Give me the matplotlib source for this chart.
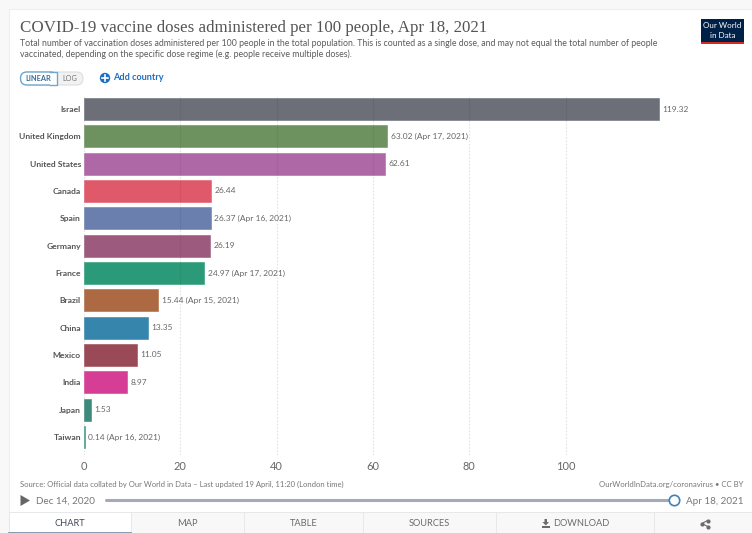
import matplotlib
matplotlib.use("Agg")
import matplotlib.pyplot as plt
from matplotlib.patches import FancyBboxPatch, Rectangle, Circle, Polygon

plt.rcParams['font.family'] = ['Lato', 'DejaVu Sans']

countries = ["Israel", "United Kingdom", "United States", "Canada", "Spain", "Germany", "France",
             "Brazil", "China", "Mexico", "India", "Japan", "Taiwan"]
doses = [119.32, 63.02, 62.61, 26.44, 26.37, 26.19, 24.97, 15.44, 13.35, 11.05, 8.97, 1.53, 0.14]
dates = ["", "Apr 17, 2021", "", "", "Apr 16, 2021", "", "Apr 17, 2021", "Apr 15, 2021", "", "", "", "",
         "Apr 16, 2021"]
colors = ["#6d6f78", "#6e9160", "#ae68a6", "#e0596b", "#6a7fae", "#9c5b7e", "#2b9a78",
          "#ad6a42", "#3585ac", "#9a4a56", "#d63e95", "#3e8a7c", "#3a9a80"]
x_ticks = [0, 20, 40, 60, 80, 100]
tabs = ["CHART", "MAP", "TABLE", "SOURCES", "DOWNLOAD"]
tab_edges = [9, 131, 244, 363, 496, 654, 752]

W, H = 752, 533
fig = plt.figure(figsize=(W / 100, H / 100), dpi=100, facecolor="#f8f8f8")

# Page furniture is laid out in pixel coordinates on a full-figure layer
page = fig.add_axes([0, 0, 1, 1], zorder=0)
page.set_xlim(0, W)
page.set_ylim(H, 0)
page.axis("off")
page.add_patch(Rectangle((9, 9), W - 9, H - 9, fc="white", ec="#eeeeee", lw=0.8))

GREY = "#5b5b5b"
page.text(20, 28, "COVID-19 vaccine doses administered per 100 people, Apr 18, 2021",
          family="Liberation Serif", fontsize=12.2, color="#555555", va="center", ha="left")
page.text(20, 43.5, "Total number of vaccination doses administered per 100 people in the total population. "
          "This is counted as a single dose, and may not equal the total number of people",
          fontsize=6.3, color=GREY, va="center")
page.text(20, 54.5, "vaccinated, depending on the specific dose regime (e.g. people receive multiple doses).",
          fontsize=6.3, color=GREY, va="center")

# Logo
page.add_patch(Rectangle((701, 19), 43, 25, fc="#002147", ec="none"))
page.add_patch(Rectangle((701, 41.5), 43, 2.5, fc="#d42b21", ec="none"))
page.text(722.5, 26, "Our World", color="white", fontsize=5.8, ha="center", va="center")
page.text(722.5, 35.5, "in Data", color="white", fontsize=5.8, ha="center", va="center")

# Scale toggle
page.add_patch(FancyBboxPatch((20.5, 72), 62.5, 13, boxstyle="round,pad=0,rounding_size=6.5",
                              fc="#f2f2f2", ec="#dddddd", lw=0.8))
page.add_patch(FancyBboxPatch((20.5, 72), 36.5, 13, boxstyle="round,pad=0,rounding_size=6.5",
                              fc="white", ec="#6fa8cf", lw=1.0))
page.add_patch(Rectangle((50, 72.5), 7, 12, fc="white", ec="none", zorder=2))
page.plot([50, 57, 57, 50], [72, 72, 85, 85], color="#6fa8cf", lw=1.0, zorder=3)
page.text(38.7, 78.7, "LINEAR", fontsize=5.3, color="#3b6f96", ha="center", va="center", weight="bold", zorder=4)
page.text(70, 78.7, "LOG", fontsize=5.2, color="#777777", ha="center", va="center")
page.add_patch(Circle((105, 78), 5.2, fc="#1d6fc4", ec="none"))
page.plot([102, 108], [78, 78], color="white", lw=1.2)
page.plot([105, 105], [75, 81], color="white", lw=1.2)
page.text(113.5, 77.8, "Add country", fontsize=6.6, color="#1d6fc4", va="center", weight="bold")

# Bar chart
left, right, top, bottom = 84.0, 700.0, 96.0, 455.0
ax = fig.add_axes([left / W, 1 - bottom / H, (right - left) / W, (bottom - top) / H], zorder=1)
ax.patch.set_alpha(0)
step = 27.33
ax.set_xlim(0, (right - left) / 4.815)
ax.set_ylim((bottom - 109) / step, (top - 109) / step)
ax.barh(range(len(countries)), doses, height=0.8, color=colors, edgecolor=colors, linewidth=0.4, zorder=2)
for t in x_ticks:
    ax.axvline(t, color="#e2e2e2", lw=0.8, ls=(0, (1.5, 1.5)), zorder=1)
    # Grid stays faintly visible through the bars it crosses
    for i, v in enumerate(doses):
        if v > t > 0:
            ax.vlines(t, i - 0.4, i + 0.4, color="black", alpha=0.05, lw=0.8, zorder=3)
for s in ax.spines.values():
    s.set_visible(False)
ax.set_xticks(x_ticks)
ax.set_xticklabels([str(t) for t in x_ticks], fontsize=7.9, color="#666666")
ax.tick_params(axis="x", length=0, pad=4.0)
ax.set_yticks(range(len(countries)))
ax.set_yticklabels(countries, fontsize=6.1, color="#555555", weight="bold")
ax.tick_params(axis="y", length=0, pad=2.2)
for i, (v, d) in enumerate(zip(doses, dates)):
    label = f"{v:.2f}" + (f" ({d})" if d else "")
    ax.annotate(label, (v, i), xytext=(2.4, 0), textcoords="offset points", fontsize=6.0,
                color="#666666", va="center", ha="left")

# Footer
page.text(20, 484, "Source: Official data collated by Our World in Data \u2013 Last updated 19 April, 11:20 (London time)",
          fontsize=5.5, color="#777777", va="center")
page.text(743, 484, "OurWorldInData.org/coronavirus \u2022 CC BY", fontsize=5.6, color="#777777", va="center", ha="right")

# Timeline slider
page.add_patch(Polygon([(20.5, 495), (20.5, 506), (30, 500.5)], fc="#666666", ec="none"))
page.text(36, 501, "Dec 14, 2020", fontsize=7.1, color="#777777", va="center")
page.plot([106, 674], [500.3, 500.3], color="#a3abb8", lw=2.2, solid_capstyle="round")
page.add_patch(Circle((674.5, 500.5), 5.2, fc="white", ec="#3f82b5", lw=1.2, zorder=5))
page.text(743, 501, "Apr 18, 2021", fontsize=7.1, color="#777777", va="center", ha="right")

# Tab strip
for i in range(len(tab_edges) - 1):
    x0, x1 = tab_edges[i], tab_edges[i + 1]
    face = "white" if i == 0 else "#f8f8f8"
    page.add_patch(Rectangle((x0, 511.5), x1 - x0, 22, fc=face, ec="#e8e8e8", lw=0.7))
    if i < len(tabs):
        label = tabs[i]
        page.text((x0 + x1) / 2 + (6 if label == "DOWNLOAD" else 0), 523.5, label, fontsize=6.7,
                  color="#3f4a5a" if i == 0 else "#6b6b6b", ha="center", va="center")
page.plot([9, 131], [532.5, 532.5], color="#6f8ba3", lw=1.2)

# Download arrow and share glyph
page.add_patch(Polygon([(544.5, 519), (547, 519), (547, 522), (549, 522), (545.8, 525.5), (542.5, 522), (544.5, 522)],
                       fc="#6b6b6b", ec="none"))
page.add_patch(Rectangle((541.5, 526), 8.5, 1.5, fc="#6b6b6b", ec="none"))
page.plot([707.5, 702, 707.5], [520.5, 523.5, 526.5], color="#6b6b6b", lw=0.8, marker="o", ms=2.0)

fig.savefig("out.png", dpi=100, facecolor=fig.get_facecolor())
